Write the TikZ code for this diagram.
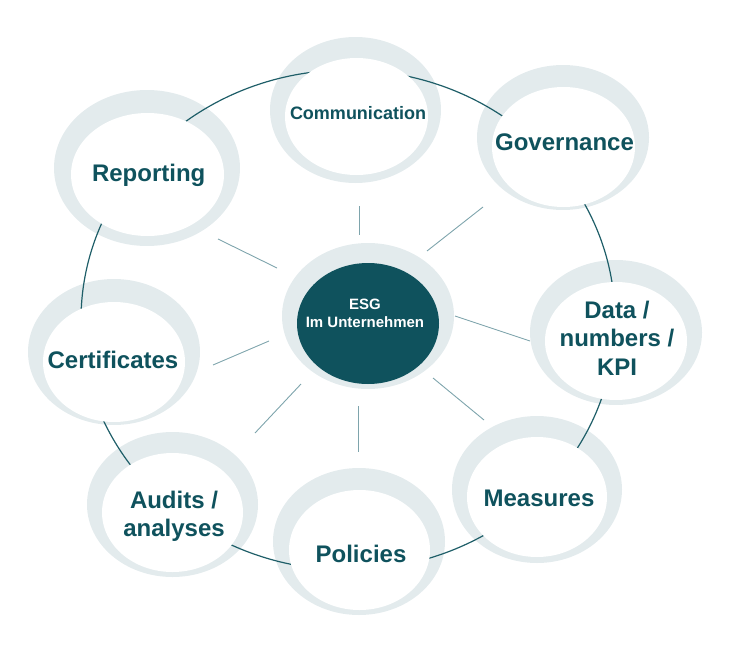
\documentclass[tikz,border=0pt]{standalone}
\usepackage{fontspec}
\setmainfont{Liberation Sans}
\usetikzlibrary{shapes.geometric}
\definecolor{ringgray}{HTML}{E3EBED}
\definecolor{tealdark}{HTML}{0F525D}
\definecolor{linecol}{HTML}{1E5E68}
\definecolor{spokecol}{HTML}{7EA4AC}
\tikzset{
  ringout/.style 2 args={ellipse, fill=ringgray, draw=none, inner sep=0pt, minimum width=#1pt, minimum height=#2pt},
  ringin/.style 2 args={ellipse, fill=white, draw=none, inner sep=0pt, minimum width=#1pt, minimum height=#2pt},
  lbl/.style={inner sep=0pt, anchor=base, text=tealdark, font=\bfseries\fontsize{24}{28.75}\selectfont},
  spoke/.style={draw=spokecol, line width=0.9pt},
  loop/.style={draw=linecol, line width=1.2pt}
}
\newcommand{\stackedtext}[1]{\def\arraystretch{1}\begin{tabular}[t]{@{}c@{}}#1\end{tabular}}
\begin{document}
\begin{tikzpicture}[x=1pt, y=-1pt]
\useasboundingbox (0,0) rectangle (739,645);
% outer grey rings
\node[ringout={186}{156}] (repO) at (147,168) {};
\node[ringout={171}{146}] (comO) at (355.5,110) {};
\node[ringout={172}{145}] (govO) at (563,137.5) {};
\node[ringout={172}{145}] (datO) at (616,332.5) {};
\node[ringout={170}{147}] (meaO) at (537,489.5) {};
\node[ringout={172}{147}] (polO) at (359,541.5) {};
\node[ringout={171}{145}] (audO) at (172.5,504.5) {};
\node[ringout={172}{146}] (cerO) at (114,352) {};
\node[ringout={172}{146}] (esgO) at (368,316) {};
% connecting loop
\draw[loop] (348,320) ellipse [x radius=267, y radius=250];
% inner white ellipses
\node[ringin={153}{123}] (rep) at (147.5,174.5) {};
\node[ringin={143}{117}] (com) at (356.5,116.5) {};
\node[ringin={143}{120}] (gov) at (563.5,147) {};
\node[ringin={142}{118}] (dat) at (616,341) {};
\node[ringin={140}{120}] (mea) at (537,497) {};
\node[ringin={141}{120}] (pol) at (359.5,550) {};
\node[ringin={141}{119}] (aud) at (172.5,512.5) {};
\node[ringin={142}{120}] (cer) at (114,362) {};
\node[ellipse, fill=tealdark, inner sep=0pt, minimum width=142pt, minimum height=121pt] (esg) at (368,323.5) {};
% labels
\node[lbl] (repT) at (148.7,181) {Reporting};
\node[lbl, font=\bfseries\fontsize{18}{21}\selectfont] (comT) at (358,119.3) {Communication};
\node[lbl] (govT) at (564.5,150) {Governance};
\node[lbl] (datT) at (617,318) {\stackedtext{Data /\\numbers /\\KPI}};
\node[lbl] (meaT) at (539,506) {Measures};
\node[lbl] (polT) at (361,562) {Policies};
\node[lbl] (audT) at (174,508) {\stackedtext{Audits /\\analyses}};
\node[lbl] (cerT) at (113,368) {Certificates};
\node[lbl, text=white, font=\bfseries\fontsize{15}{18}\selectfont] (esgT) at (365,309) {\stackedtext{ESG\\Im Unternehmen}};
% spokes
\coordinate (s1a) at (359,206); \coordinate (s1b) at (359,235);
\coordinate (s2a) at (427,251); \coordinate (s2b) at (483,207);
\coordinate (s3a) at (455,316); \coordinate (s3b) at (530,341);
\coordinate (s4a) at (433,378); \coordinate (s4b) at (484,420);
\coordinate (s5a) at (358,406); \coordinate (s5b) at (358,452);
\coordinate (s6a) at (301,384); \coordinate (s6b) at (255,433);
\coordinate (s7a) at (269,341); \coordinate (s7b) at (213,365);
\coordinate (s8a) at (218,239); \coordinate (s8b) at (277,268);
\foreach \i in {1,...,8} {\draw[spoke] (s\i a) -- (s\i b);}
\end{tikzpicture}
\end{document}
